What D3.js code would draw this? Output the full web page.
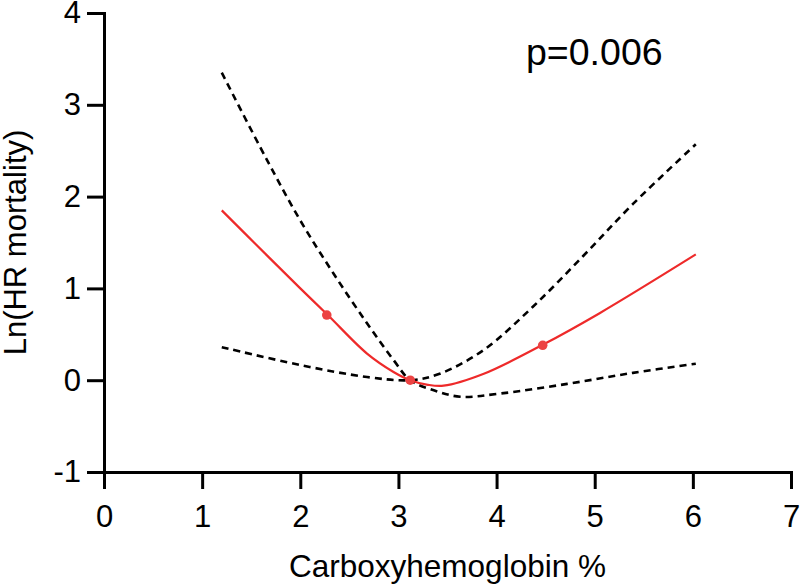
<!DOCTYPE html>
<html>
<head>
<meta charset="utf-8">
<script src="https://cdn.jsdelivr.net/npm/d3@7"></script>
<style>
  body { margin: 0; background: #fff; }
  text { font-family: "Liberation Sans", Arial, sans-serif; fill: #000; }
</style>
</head>
<body>
<div id="chart"></div>
<script>
// estimated spline estimate and 95% CI
const estX = [1.2, 1.66, 2.0, 2.28, 2.68, 2.95, 3.12, 3.3, 3.46, 3.87, 4.46, 5.05, 6.03];
const estY = [1.85, 1.36, 1.0, 0.71, 0.29, 0.09, 0.0, -0.05, -0.06, 0.07, 0.38, 0.73, 1.37];

// band that starts high on the left and ends low on the right
const bandAX = [1.2, 1.66, 2.0, 2.34, 2.68, 2.95, 3.12, 3.36, 3.63, 4.04, 4.72, 5.39, 6.03];
const bandAY = [3.35, 2.40, 1.74, 1.16, 0.62, 0.22, 0.0, -0.11, -0.18, -0.145, -0.04, 0.08, 0.18];

// band that starts low on the left and ends high on the right
const bandBX = [1.2, 2.0, 2.68, 3.12, 3.42, 3.87, 4.37, 4.88, 5.39, 6.03];
const bandBY = [0.36, 0.165, 0.035, 0.0, 0.07, 0.33, 0.80, 1.35, 1.92, 2.57];

// marked knots
const knotX = [2.27, 3.12, 4.47];
const knotY = [0.71, 0.0, 0.38];

const xTicks = [0, 1, 2, 3, 4, 5, 6, 7];
const yTicks = [-1, 0, 1, 2, 3, 4];

const width = 800, height = 586;
const margin = { top: 13, right: 9, bottom: 114, left: 104 };

const svg = d3.select('#chart').append('svg')
  .attr('width', width)
  .attr('height', height);

const x = d3.scaleLinear().domain([0, 7]).range([margin.left, width - margin.right]);
const y = d3.scaleLinear().domain([-1, 4]).range([height - margin.bottom, margin.top]);

const line = d3.line()
  .x(d => x(d[0]))
  .y(d => y(d[1]))
  .curve(d3.curveCatmullRom.alpha(0.5));

const zip = (a, b) => a.map((v, i) => [v, b[i]]);

// CI bands
[zip(bandAX, bandAY), zip(bandBX, bandBY)].forEach(pts => {
  svg.append('path')
    .attr('d', line(pts))
    .attr('fill', 'none')
    .attr('stroke', '#000')
    .attr('stroke-width', 2.6)
    .attr('stroke-dasharray', '7,5');
});

// estimate
svg.append('path')
  .attr('d', line(zip(estX, estY)))
  .attr('fill', 'none')
  .attr('stroke', '#ee2a2a')
  .attr('stroke-width', 2.2);

svg.append('g')
  .selectAll('circle')
  .data(zip(knotX, knotY))
  .enter().append('circle')
  .attr('cx', d => x(d[0]))
  .attr('cy', d => y(d[1]))
  .attr('r', 4.8)
  .attr('fill', '#ec4343');

// axes
const xAxis = svg.append('g')
  .attr('transform', `translate(0,${y(-1)})`)
  .call(d3.axisBottom(x).tickValues(xTicks).tickFormat(d => String(d))
    .tickSize(17).tickSizeOuter(0).tickPadding(16));

const yAxis = svg.append('g')
  .attr('transform', `translate(${x(0)},0)`)
  .call(d3.axisLeft(y).tickValues(yTicks).tickFormat(d => String(d))
    .tickSize(17).tickSizeOuter(0).tickPadding(6));

[xAxis, yAxis].forEach(g => {
  g.select('.domain').attr('stroke-width', 3).attr('stroke-linecap', 'square');
  g.selectAll('.tick line').attr('stroke-width', 3);
  g.selectAll('.tick text')
    .style('font-size', '31px')
    .style('font-family', '"Liberation Sans", Arial, sans-serif')
    .attr('fill', '#000');
});

// axis titles
svg.append('text')
  .attr('x', (x(0) + x(7)) / 2)
  .attr('y', 577)
  .attr('text-anchor', 'middle')
  .style('font-size', '31.5px')
  .text('Carboxyhemoglobin %');

svg.append('text')
  .attr('transform', `translate(26,${(y(-1) + y(4)) / 2}) rotate(-90)`)
  .attr('text-anchor', 'middle')
  .style('font-size', '31px')
  .text('Ln(HR mortality)');

svg.append('text')
  .attr('x', x(4.3))
  .attr('y', 65)
  .style('font-size', '37.5px')
  .text('p=0.006');
</script>
</body>
</html>
